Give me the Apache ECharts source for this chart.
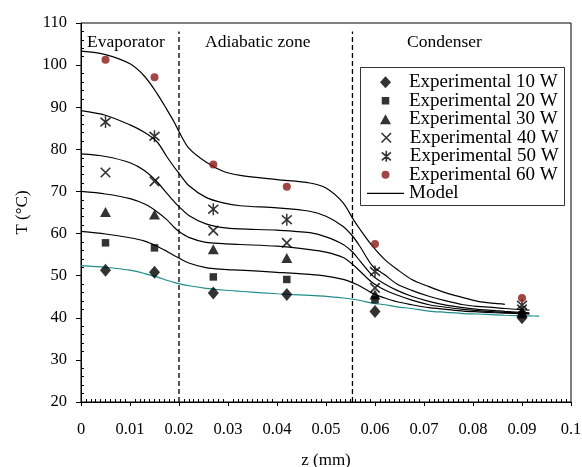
<!DOCTYPE html>
<html>
<head>
<meta charset="utf-8">
<script src="https://cdn.jsdelivr.net/npm/echarts@6/dist/echarts.min.js"></script>
<style>
html,body{margin:0;padding:0;background:#fff;}
#c{width:582px;height:467px;}
</style>
</head>
<body>
<div id="c"></div>
<script>
// ---- Data ----
const expZ = [0.005, 0.015, 0.027, 0.042, 0.06, 0.09];
const exp10 = [51.3, 50.8, 45.9, 45.5, 41.5, 40.0];
const exp20 = [57.8, 56.6, 49.7, 49.1, 44.3, 40.7];
const exp30 = [65.1, 64.5, 56.3, 54.2, 45.5, 41.3];
const exp40 = [74.5, 72.4, 60.7, 57.8, 47.1, 42.0];
const exp50 = [86.5, 83.1, 65.8, 63.3, 51.0, 43.0];
const exp60 = [101.3, 97.1, 76.4, 71.1, 57.5, 44.7];

const modelZ = [0, 0.005, 0.01, 0.013, 0.0155, 0.0175, 0.019, 0.02, 0.022, 0.0255, 0.029, 0.0325, 0.04, 0.0467, 0.05, 0.0535, 0.0555, 0.057, 0.0595, 0.062, 0.0645, 0.0675, 0.071, 0.0745, 0.078, 0.081, 0.0845, 0.0865, 0.0915, 0.0935];
const model60 = [103.3, 102.5, 100.3, 97.3, 93.3, 89.5, 86.5, 84.2, 80.3, 77.0, 74.8, 73.8, 72.8, 72.0, 70.8, 67.3, 63.5, 60.9, 57.0, 53.8, 51.5, 49.1, 47.4, 45.9, 44.8, 43.9, 43.4, 43.2, null, null];
const model50 = [89.2, 88.1, 85.8, 84.0, 81.8, 78.3, 75.8, 74.3, 71.4, 68.6, 67.3, 66.6, 66.1, 65.3, 64.1, 61.7, 59.3, 56.8, 52.3, 50.2, 48.0, 46.5, 45.1, 44.0, 43.1, 42.7, 42.4, 42.2, 41.8, null];
const model40 = [78.9, 78.3, 76.8, 74.9, 72.3, 69.6, 67.6, 66.4, 64.3, 62.3, 61.4, 61.1, 60.8, 60.2, 59.2, 57.4, 55.5, 53.4, 50.0, 48.0, 46.5, 45.1, 43.9, 43.0, 42.4, 42.0, 41.7, 41.5, 41.2, null];
const model30 = [70.0, 69.4, 68.3, 67.0, 65.2, 63.3, 61.5, 60.5, 59.1, 57.9, 57.6, 57.4, 57.0, 56.2, 55.6, 54.3, 52.6, 51.0, 48.3, 46.6, 45.4, 44.2, 43.1, 42.5, 42.0, 41.7, 41.4, 41.3, 41.0, null];
const model20 = [60.5, 59.9, 59.0, 58.2, 57.0, 55.8, 54.8, 54.2, 53.0, 51.9, 51.5, 51.3, 50.8, 50.3, 49.9, 49.1, 48.3, 47.5, 45.8, 44.7, 43.8, 43.1, 42.4, 42.0, 41.6, 41.4, 41.2, 41.1, 40.9, null];
const model10 = [52.4, 52.0, 51.3, 50.5, 49.7, 48.9, 48.4, 48.1, 47.6, 47.0, 46.6, 46.3, 45.7, 45.3, 45.1, 44.7, 44.4, 44.1, 43.5, 43.1, 42.6, 42.2, 41.6, 41.3, 41.0, 40.9, 40.7, 40.6, 40.45, 40.4];

const zoneBoundaryZ = [0.02, 0.0554];
const zoneLineRange = [20, 108];
const zoneNames = ['Evaporator', 'Adiabatic zone', 'Condenser'];
const seriesNames = ['Experimental 10 W', 'Experimental 20 W', 'Experimental 30 W', 'Experimental 40 W', 'Experimental 50 W', 'Experimental 60 W', 'Model'];
const xTickLabels = ['0', '0.01', '0.02', '0.03', '0.04', '0.05', '0.06', '0.07', '0.08', '0.09', '0.1'];
const yTickLabels = ['20', '30', '40', '50', '60', '70', '80', '90', '100', '110'];

// ---- Chart ----
const FONT = '"Liberation Serif", "Times New Roman", serif';
const chart = echarts.init(document.getElementById('c'), null, {renderer: 'canvas'});
const pair = (zs, ts) => zs.map((z, i) => [z, ts[i]]);

const xPath = 'path://M0,0L10,10M10,0L0,10';
const starPath = 'path://M0,2L10,12M10,2L0,12M5,0L5,14';
// legend icons: shape centred in a 37px wide box (tiny end segments fix the box width)
const lgDiamond = 'path://M0,6L0.01,6M36.99,6L37,6M18.5,0L24,6L18.5,12L13,6Z';
const lgRect = 'path://M0,3.75L0.01,3.75M36.99,3.75L37,3.75M14.75,0L22.25,0L22.25,7.5L14.75,7.5Z';
const lgTri = 'path://M0,10L0.01,10M36.99,10L37,10M18.5,0L24,10L13,10Z';
const lgX = 'path://M0,4.75L0.01,4.75M36.99,4.75L37,4.75M13.75,0L23.25,9.5M23.25,0L13.75,9.5';
const lgStar = 'path://M0,5.5L0.01,5.5M36.99,5.5L37,5.5M14,1.5L23,9.5M23,1.5L14,9.5M18.5,0L18.5,11';
const lgCircle = 'path://M0,4L0.01,4M36.99,4L37,4M22.5,4A4,4,0,1,1,14.5,4A4,4,0,1,1,22.5,4Z';

const markerDefs = [
  {data: exp10, symbol: 'diamond', size: [11, 13], icon: lgDiamond, legendH: 12, style: {color: '#000'}},
  {data: exp20, symbol: 'rect', size: 7.5, icon: lgRect, legendH: 7.5, style: {color: '#000'}},
  {data: exp30, symbol: 'triangle', size: [11, 10], icon: lgTri, legendH: 10, style: {color: '#000'}},
  {data: exp40, symbol: xPath, size: 9.5, icon: lgX, legendH: 9.5, style: {color: 'transparent', borderColor: '#000', borderWidth: 1.6}},
  {data: exp50, symbol: starPath, size: [10, 12], icon: lgStar, legendH: 11, style: {color: 'transparent', borderColor: '#000', borderWidth: 1.6}},
  {data: exp60, symbol: 'circle', size: 8, icon: lgCircle, legendH: 8, style: {color: '#8b1717'}}
];

const series = [];
const models = [model60, model50, model40, model30, model20, model10];
models.forEach((m, i) => {
  series.push({
    name: 'Model', type: 'line', data: pair(modelZ, m), smooth: 0.3, symbol: 'none',
    connectNulls: false, z: 2,
    lineStyle: {color: i === 5 ? '#1f8c8c' : '#000', width: 1.2},
    itemStyle: {color: i === 5 ? '#1f8c8c' : '#000'}
  });
});
markerDefs.forEach((d, i) => {
  series.push({
    name: seriesNames[i], type: 'scatter', data: pair(expZ, d.data),
    symbol: d.symbol, symbolSize: d.size, z: 5, itemStyle: d.style
  });
});
zoneBoundaryZ.forEach(z => {
  series.push({
    name: 'zone', type: 'line', data: zoneLineRange.map(v => [z, v]), symbol: 'none', z: 1,
    lineStyle: {color: '#000', width: 1.3, type: [5, 3]}, silent: true
  });
});

const legendText = {fontFamily: FONT, fontSize: 19, lineHeight: 18, color: '#000'};
const legends = markerDefs.map((d, i) => ({
  data: [{name: seriesNames[i], icon: d.icon}], left: 367, top: 81.8 + i * 18.5 - 9, padding: 0, itemWidth: 37,
  itemHeight: d.legendH, symbolKeepAspect: false, selectedMode: false, z: 6,
  itemStyle: (i === 3 || i === 4) ? {borderWidth: 1.6, borderColor: '#000', color: 'transparent'} : {borderWidth: 0},
  textStyle: legendText
}));
legends.push({
  data: [{name: 'Model', icon: 'rect'}], left: 367, top: 81.8 + 6 * 18.5 - 9, padding: 0, itemWidth: 37,
  itemHeight: 1.2, symbolKeepAspect: false, selectedMode: false, z: 6,
  itemStyle: {color: '#000', borderWidth: 0},
  textStyle: legendText
});

chart.setOption({
  animation: false,
  backgroundColor: '#fff',
  grid: {left: 81, right: 11, top: 23, bottom: 65, show: true, borderColor: '#000', borderWidth: 1,
    backgroundColor: 'transparent', containLabel: false, outerBoundsMode: 'none'},
  legend: legends,
  xAxis: {
    type: 'value', min: 0, max: 0.1, interval: 0.01,
    name: 'z (mm)', nameLocation: 'middle', nameGap: 50,
    nameTextStyle: {fontFamily: FONT, fontSize: 17, color: '#000'},
    axisLine: {show: true, onZero: false, lineStyle: {color: '#000', width: 1}},
    axisTick: {show: true, inside: false, length: 4, lineStyle: {color: '#000'}},
    minorTick: {show: true, splitNumber: 10, length: -3, lineStyle: {color: '#000'}},
    axisLabel: {fontFamily: FONT, fontSize: 16.5, color: '#000', margin: 19,
      formatter: v => xTickLabels[Math.round(v / 0.01)]},
    splitLine: {show: false}
  },
  yAxis: {
    type: 'value', min: 20, max: 110, interval: 10,
    name: 'T (°C)', nameLocation: 'middle', nameGap: 50,
    nameTextStyle: {fontFamily: FONT, fontSize: 17, color: '#000'},
    axisLine: {show: true, lineStyle: {color: '#000', width: 1}},
    axisTick: {show: true, inside: false, length: 5, lineStyle: {color: '#000'}},
    minorTick: {show: true, splitNumber: 5, length: -3, lineStyle: {color: '#000'}},
    axisLabel: {fontFamily: FONT, fontSize: 16.5, color: '#000', margin: 14,
      formatter: v => yTickLabels[Math.round((v - 20) / 10)]},
    splitLine: {show: false}
  },
  graphic: [
    {type: 'rect', z: 3, shape: {x: 360.5, y: 67.5, width: 204, height: 138}, style: {fill: '#fff', stroke: '#333', lineWidth: 1}},
    {type: 'text', z: 3, left: 87, top: 33, style: {text: zoneNames[0], font: '17.5px ' + FONT, fill: '#000'}},
    {type: 'text', z: 3, left: 205, top: 33, style: {text: zoneNames[1], font: '17.5px ' + FONT, fill: '#000'}},
    {type: 'text', z: 3, left: 407, top: 33, style: {text: zoneNames[2], font: '17.5px ' + FONT, fill: '#000'}}
  ],
  series: series
});
</script>
</body>
</html>
